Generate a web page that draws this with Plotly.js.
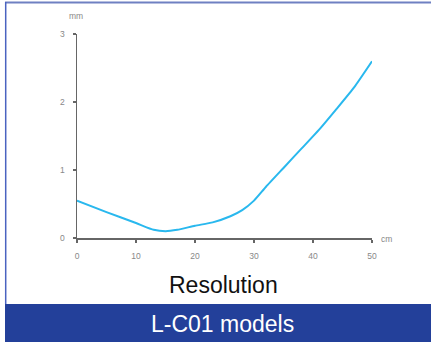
<!DOCTYPE html>
<html>
<head>
<meta charset="utf-8">
<script src="https://cdn.plot.ly/plotly-3.0.1.min.js"></script>
<style>html,body{margin:0;padding:0;background:#fff;}#chart{width:431px;height:342px;}</style>
</head>
<body>
<div id="chart"></div>
<script>
// Data (distance in cm, resolution in mm)
const distanceCm = [0, 5, 10, 13, 15, 17, 20, 23, 26, 28, 30, 32, 35, 38, 41, 44, 47, 50];
const resolutionMm = [0.55, 0.38, 0.22, 0.12, 0.10, 0.12, 0.18, 0.23, 0.32, 0.41, 0.55, 0.75, 1.03, 1.31, 1.59, 1.90, 2.22, 2.6];
const xTicks = [0, 10, 20, 30, 40, 50];
const yTicks = [0, 1, 2, 3];
const xUnit = "cm";
const yUnit = "mm";
const chartTitle = "Resolution";
const modelLabel = "L-C01 models";

const W = 431, H = 342;
const M = {l: 77, r: 59, t: 34, b: 104};
const pw = W - M.l - M.r, ph = H - M.t - M.b;
const px = x => (x - M.l) / pw;
const py = y => (H - M.b - y) / ph;

const trace = {
  x: distanceCm, y: resolutionMm, type: 'scatter', mode: 'lines',
  line: {color: '#29b8ee', width: 2, shape: 'spline', smoothing: 0.5},
  hoverinfo: 'skip'
};

const axisCommon = {
  showgrid: false, zeroline: false, showline: true,
  linecolor: '#666', linewidth: 1.5,
  ticks: 'outside', ticklen: 3, tickcolor: '#666', tickwidth: 1.5,
  tickfont: {family: 'Arial, Liberation Sans, sans-serif', size: 8.5, color: '#888'},
  fixedrange: true
};

const layout = {
  width: W, height: H,
  margin: M,
  paper_bgcolor: '#fff', plot_bgcolor: '#fff',
  showlegend: false,
  xaxis: Object.assign({}, axisCommon, {range: [0, 50], tickvals: xTicks, ticklabelstandoff: 6}),
  yaxis: Object.assign({}, axisCommon, {range: [0, 3], tickvals: yTicks, ticklabelstandoff: 6}),
  shapes: [
    {type: 'rect', xref: 'paper', yref: 'paper', x0: px(5), x1: px(432), y0: py(304), y1: py(343),
     fillcolor: '#23409a', line: {width: 0}},
    {type: 'line', xref: 'paper', yref: 'paper', x0: px(5), x1: px(432), y0: py(2.5), y1: py(2.5),
     line: {color: '#6f80c2', width: 2}},
    {type: 'line', xref: 'paper', yref: 'paper', x0: px(5.7), x1: px(5.7), y0: py(2), y1: py(304),
     line: {color: '#4a63c0', width: 1.5}}
  ],
  annotations: [
    {text: yUnit, xref: 'paper', yref: 'paper', x: px(76), y: py(16), showarrow: false,
     xanchor: 'center', yanchor: 'middle', font: {family: 'Arial, Liberation Sans, sans-serif', size: 8.5, color: '#888'}},
    {text: xUnit, xref: 'paper', yref: 'paper', x: px(386), y: py(239), showarrow: false,
     xanchor: 'center', yanchor: 'middle', font: {family: 'Arial, Liberation Sans, sans-serif', size: 8.5, color: '#888'}},
    {text: chartTitle, xref: 'paper', yref: 'paper', x: px(223), y: py(285), showarrow: false,
     xanchor: 'center', yanchor: 'middle', font: {family: 'Arial, Liberation Sans, sans-serif', size: 23, color: '#111'}},
    {text: modelLabel, xref: 'paper', yref: 'paper', x: px(222.5), y: py(324), showarrow: false,
     xanchor: 'center', yanchor: 'middle', font: {family: 'Arial, Liberation Sans, sans-serif', size: 23, color: '#fff'}}
  ]
};

Plotly.newPlot('chart', [trace], layout, {displayModeBar: false, staticPlot: true});
</script>
</body>
</html>
